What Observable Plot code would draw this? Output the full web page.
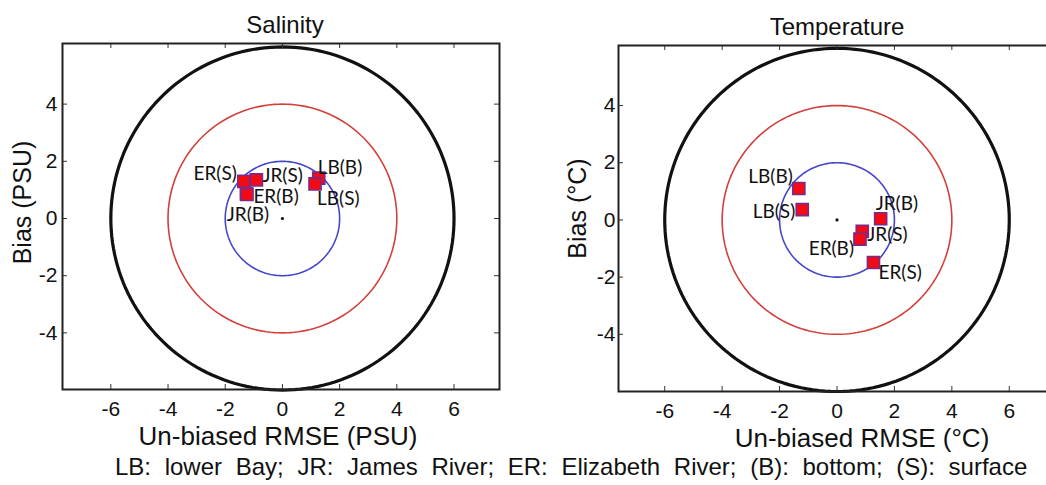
<!DOCTYPE html>
<html>
<head>
<meta charset="utf-8">
<script src="https://cdn.jsdelivr.net/npm/d3@7"></script>
<script src="https://cdn.jsdelivr.net/npm/@observablehq/plot@0.6"></script>
<style>
  html, body { margin: 0; padding: 0; background: #fff; }
  body { width: 1046px; height: 485px; position: relative; overflow: hidden; font-family: "Liberation Sans", Arial, sans-serif; }
  #left { position: absolute; left: 0; top: 0; width: 520px; }
  #right { position: absolute; left: 560px; top: 0; width: 500px; }
  #left svg, #right svg { max-width: none !important; }
  #caption { position: absolute; left: 115px; top: 453px; white-space: nowrap; font-size: 24px; color: #111; word-spacing: 7px; line-height: 28px; }
</style>
</head>
<body>
<div id="left"></div>
<div id="right"></div>
<div id="caption">LB: lower Bay; JR: James River; ER: Elizabeth River; (B): bottom; (S): surface</div>
<script>
// ---- data ----
const salStations = ["ER(S)", "JR(S)", "ER(B)", "JR(B)", "LB(B)", "LB(S)"];
const salRmse     = [-1.35, -0.91, -1.26, -1.24, 1.27, 1.14];
const salBias     = [ 1.30,  1.35,  0.86,  0.84, 1.41, 1.21];

const tempStations = ["LB(B)", "LB(S)", "JR(B)", "JR(S)", "ER(B)", "ER(S)"];
const tempRmse     = [-1.33, -1.21, 1.52,  0.88,  0.80,  1.27];
const tempBias     = [ 1.10,  0.36, 0.04, -0.40, -0.67, -1.49];

const circleRadii = [2, 4, 6];
const xTicks = [-6, -4, -2, 0, 2, 4, 6];
const yTicks = [-4, -2, 0, 2, 4];

// ---- layout / style (not data) ----
const circleColors = ["#4646c8", "#d2403c", "#111111"];
const circleWidths = [1.6, 1.6, 3.2];
// label placement: [dx, dy, textAnchor]
const salLabelPlace = {
  "ER(S)": [-7, -7, "end"],
  "JR(S)": [6, -4, "start"],
  "ER(B)": [7, 3, "start"],
  "JR(B)": [1, 20, "middle"],
  "LB(B)": [-1, -10, "start"],
  "LB(S)": [2, 15, "start"]
};
const tempLabelPlace = {
  "LB(B)": [-6, -12, "end"],
  "LB(S)": [-7, 2, "end"],
  "JR(B)": [-5, -15, "start"],
  "JR(S)": [5, 4, "start"],
  "ER(B)": [-6, 10, "end"],
  "ER(S)": [5, 10, "start"]
};

function circlePoints(radii) {
  const pts = [];
  radii.forEach((r, k) => {
    for (let a = 0; a <= 360; a += 2) {
      const t = a * Math.PI / 180;
      pts.push({k, x: r * Math.cos(t), y: r * Math.sin(t)});
    }
  });
  return pts;
}

function panel(cfg) {
  const pts = cfg.names.map((n, i) => ({name: n, x: cfg.xs[i], y: cfg.ys[i]}));
  const circ = circlePoints(circleRadii);
  const pw = cfg.width - cfg.marginLeft - cfg.marginRight;
  const ph = cfg.height - cfg.marginTop - cfg.marginBottom;
  const marks = [];
  circleRadii.forEach((r, k) => {
    marks.push(Plot.line(circ.filter(d => d.k === k), {x: "x", y: "y", stroke: circleColors[k], strokeWidth: circleWidths[k], curve: "linear"}));
  });
  marks.push(Plot.dot([{x: 0, y: 0}], {x: "x", y: "y", r: 1.6, fill: "#111"}));
  marks.push(Plot.dot(pts, {x: "x", y: "y", symbol: "square", r: 6.8, fill: "#f20a14", stroke: "#7b2a8c", strokeWidth: 1.6}));
  pts.forEach(p => {
    const [dx, dy, ta] = cfg.place[p.name];
    marks.push(Plot.text([p], {x: "x", y: "y", text: "name", dx, dy, textAnchor: ta, lineAnchor: "middle", fontFamily: "Lato, 'Open Sans', sans-serif", fontSize: 19, fill: "#111"}));
  });
  // inward ticks
  marks.push(Plot.tickX(xTicks, {x: d => d, insetTop: ph - 5, stroke: "#333"}));
  marks.push(Plot.tickX(xTicks, {x: d => d, insetBottom: ph - 5, stroke: "#333"}));
  marks.push(Plot.tickY(yTicks, {y: d => d, insetRight: pw - 5, stroke: "#333"}));
  marks.push(Plot.tickY(yTicks, {y: d => d, insetLeft: pw - 5, stroke: "#333"}));
  // tick labels
  marks.push(Plot.axisX(xTicks, {anchor: "bottom", tickSize: 0, tickPadding: 12, tickFormat: d => String(d), label: null, fontSize: 21, fill: "#111"}));
  marks.push(Plot.axisY(yTicks, {anchor: "left", tickSize: 0, tickPadding: cfg.yPad, tickFormat: d => String(d), label: null, fontSize: 21, fill: "#111"}));
  marks.push(Plot.frame({stroke: "#222", strokeWidth: 2}));
  // titles and axis labels
  marks.push(Plot.text([cfg.title], {frameAnchor: "top", dx: cfg.titleDx, dy: -18, textAnchor: "middle", lineAnchor: "middle", fontSize: 24, fill: "#111"}));
  marks.push(Plot.text([cfg.xLabel], {frameAnchor: "bottom", dx: cfg.xLabelDx, dy: 47, textAnchor: "middle", lineAnchor: "middle", fontSize: 26, fill: "#111"}));
  marks.push(Plot.text([cfg.yLabel], {frameAnchor: "left", dx: cfg.yLabelDx, dy: cfg.yLabelDy, rotate: -90, textAnchor: "middle", lineAnchor: "middle", fontSize: 25, fill: "#111"}));
  return Plot.plot({
    width: cfg.width, height: cfg.height,
    marginLeft: cfg.marginLeft, marginRight: cfg.marginRight,
    marginTop: cfg.marginTop, marginBottom: cfg.marginBottom,
    x: {domain: cfg.xDomain, axis: null},
    y: {domain: cfg.yDomain, axis: null},
    style: {fontFamily: "'Liberation Sans', Arial, sans-serif", background: "transparent", overflow: "visible"},
    marks
  });
}

document.getElementById("left").append(panel({
  names: salStations, xs: salRmse, ys: salBias, place: salLabelPlace,
  width: 520, height: 450, marginLeft: 62, marginRight: 21, marginTop: 43, marginBottom: 61,
  xDomain: [-7.69, 7.59], yDomain: [-5.98, 6.12], yPad: 5,
  title: "Salinity", titleDx: 4,
  xLabel: "Un-biased RMSE (PSU)", xLabelDx: -3,
  yLabel: "Bias (PSU)", yLabelDx: -40, yLabelDy: -14
}));
document.getElementById("right").append(panel({
  names: tempStations, xs: tempRmse, ys: tempBias, place: tempLabelPlace,
  width: 500, height: 450, marginLeft: 58, marginRight: 5, marginTop: 45, marginBottom: 59,
  xDomain: [-7.61, 7.61], yDomain: [-6.0, 6.1], yPad: 3,
  title: "Temperature", titleDx: 0,
  xLabel: "Un-biased RMSE (°C)", xLabelDx: 25,
  yLabel: "Bias (°C)", yLabelDx: -41, yLabelDy: -10
}));
</script>
</body>
</html>
